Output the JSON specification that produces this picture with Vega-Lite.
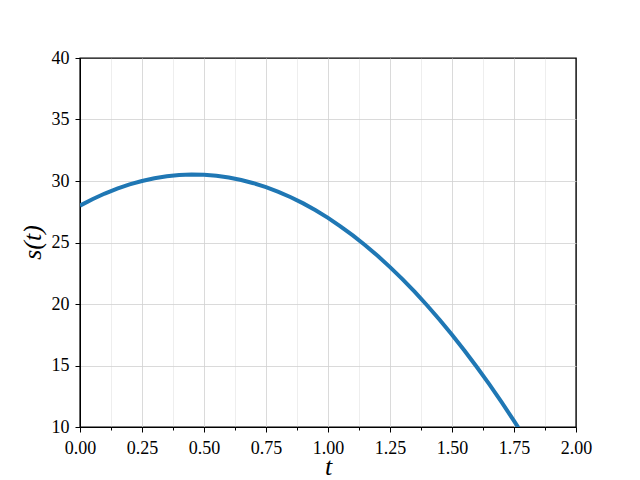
{
  "$schema": "https://vega.github.io/schema/vega-lite/v6.json",
  "description": "s(t) curve",
  "autosize": {"type": "none"},
  "width": 496,
  "height": 369,
  "padding": {"left": 80, "top": 58, "right": 64, "bottom": 53},
  "background": "white",
  "config": {
    "view": {"stroke": "black", "strokeWidth": 1.4},
    "axis": {
      "labelFont": "Liberation Serif",
      "labelFontSize": 18,
      "labelColor": "black",
      "titleFont": "Liberation Serif",
      "titleFontStyle": "italic",
      "titleFontWeight": "normal",
      "titleFontSize": 26,
      "titleColor": "black",
      "domain": true,
      "domainColor": "black",
      "domainWidth": 1,
      "tickColor": "black",
      "tickWidth": 1,
      "gridWidth": 0.8
    }
  },
  "data": {
    "values": [
      {"t": 0.0, "s": 28.0},
      {"t": 0.05, "s": 28.52},
      {"t": 0.1, "s": 28.98},
      {"t": 0.15, "s": 29.38},
      {"t": 0.2, "s": 29.72},
      {"t": 0.25, "s": 30.0},
      {"t": 0.3, "s": 30.22},
      {"t": 0.35, "s": 30.38},
      {"t": 0.4, "s": 30.48},
      {"t": 0.45, "s": 30.52},
      {"t": 0.5, "s": 30.5},
      {"t": 0.55, "s": 30.42},
      {"t": 0.6, "s": 30.28},
      {"t": 0.65, "s": 30.08},
      {"t": 0.7, "s": 29.82},
      {"t": 0.75, "s": 29.5},
      {"t": 0.8, "s": 29.12},
      {"t": 0.85, "s": 28.68},
      {"t": 0.9, "s": 28.18},
      {"t": 0.95, "s": 27.62},
      {"t": 1.0, "s": 27.0},
      {"t": 1.05, "s": 26.32},
      {"t": 1.1, "s": 25.58},
      {"t": 1.15, "s": 24.78},
      {"t": 1.2, "s": 23.92},
      {"t": 1.25, "s": 23.0},
      {"t": 1.3, "s": 22.02},
      {"t": 1.35, "s": 20.98},
      {"t": 1.4, "s": 19.88},
      {"t": 1.45, "s": 18.72},
      {"t": 1.5, "s": 17.5},
      {"t": 1.55, "s": 16.22},
      {"t": 1.6, "s": 14.88},
      {"t": 1.65, "s": 13.48},
      {"t": 1.7, "s": 12.02},
      {"t": 1.75, "s": 10.5},
      {"t": 1.8, "s": 8.92}
    ]
  },
  "mark": {"type": "line", "color": "#1f77b4", "strokeWidth": 4, "clip": true},
  "encoding": {
    "x": {
      "field": "t",
      "type": "quantitative",
      "title": "t",
      "scale": {"domain": [0, 2], "nice": false, "zero": false},
      "axis": {
        "values": [0, 0.125, 0.25, 0.375, 0.5, 0.625, 0.75, 0.875, 1, 1.125, 1.25, 1.375, 1.5, 1.625, 1.75, 1.875, 2],
        "labelExpr": "datum.value % 0.25 === 0 ? format(datum.value, '.2f') : ''",
        "labelFlush": false,
        "labelOverlap": false,
        "labelBaseline": "alphabetic",
        "labelPadding": 21,
        "tickSize": {"condition": {"test": "datum.value % 0.25 === 0", "value": 5}, "value": 3},
        "gridColor": {"condition": {"test": "datum.value === 0 || datum.value === 2", "value": "transparent"}, "value": "#d0d0d0"},
        "gridOpacity": {"condition": {"test": "datum.value % 0.25 === 0", "value": 1}, "value": 0.45},
        "titleX": 248,
        "titleY": 47,
        "titleBaseline": "alphabetic",
        "titleAlign": "center"
      }
    },
    "y": {
      "field": "s",
      "type": "quantitative",
      "title": "s(t)",
      "scale": {"domain": [10, 40], "nice": false, "zero": false},
      "axis": {
        "values": [10, 15, 20, 25, 30, 35, 40],
        "labelFlush": false,
        "labelOverlap": false,
        "labelPadding": 6,
        "tickSize": 5,
        "gridColor": {"condition": {"test": "datum.value === 10 || datum.value === 40", "value": "transparent"}, "value": "#d0d0d0"},
        "titleAngle": -90,
        "titleX": -48,
        "titleY": 184,
        "titleBaseline": "middle",
        "titleAlign": "center"
      }
    }
  }
}
